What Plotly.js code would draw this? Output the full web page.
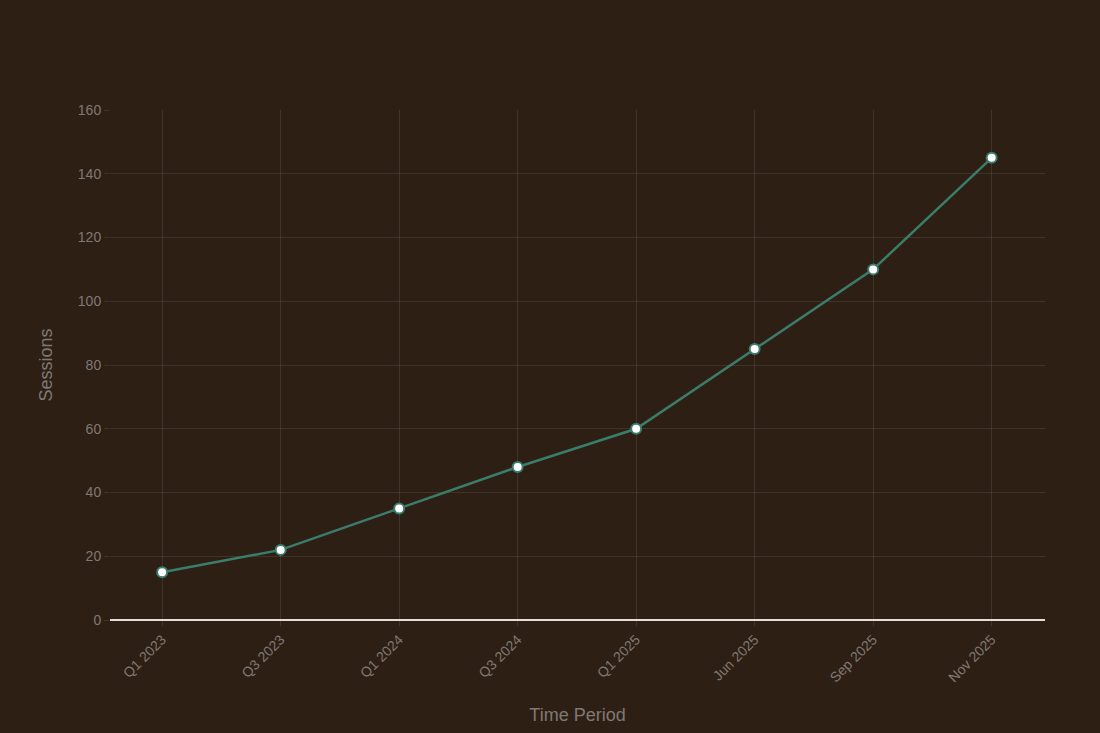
<!DOCTYPE html>
<html>
<head>
<meta charset="utf-8">
<script src="https://cdn.plot.ly/plotly-3.0.1.min.js"></script>
<style>html,body{margin:0;padding:0;background:#2e1f15;}#chart{width:1100px;height:733px;}</style>
</head>
<body>
<div id="chart"></div>
<script>
const periods = ["Q1 2023","Q3 2023","Q1 2024","Q3 2024","Q1 2025","Jun 2025","Sep 2025","Nov 2025"];
const sessions = [15, 22, 35, 48, 60, 85, 110, 145];
const yTicks = [0, 20, 40, 60, 80, 100, 120, 140, 160];

const trace = {
  x: periods,
  y: sessions,
  type: 'scatter',
  mode: 'lines+markers',
  line: {color: '#3a7d6b', width: 2.5},
  marker: {color: '#ffffff', size: 10, line: {color: '#3a7d6b', width: 2}},
  hoverinfo: 'x+y'
};

const layout = {
  width: 1100, height: 733,
  paper_bgcolor: '#2e1f15',
  plot_bgcolor: '#2e1f15',
  margin: {l: 110, r: 55, t: 110, b: 113},
  font: {family: '"Liberation Sans", Arial, sans-serif', color: '#7f7973', size: 14},
  showlegend: false,
  xaxis: {
    type: 'category',
    range: [-0.44, 7.45],
    tickangle: -45,
    showgrid: true,
    gridcolor: 'rgba(255,255,255,0.09)',
    ticks: 'outside', ticklen: 5, tickcolor: 'rgba(255,255,255,0.09)',
    zeroline: false,
    showline: false,
    tickfont: {size: 14, color: '#7f7973'},
    title: {text: 'Time Period', font: {size: 18, color: '#7f7973'}, standoff: 24}
  },
  yaxis: {
    range: [0, 160],
    tickvals: yTicks,
    showgrid: true,
    gridcolor: 'rgba(255,255,255,0.09)',
    ticks: 'outside', ticklen: 5, tickcolor: 'rgba(255,255,255,0.09)',
    zeroline: true, zerolinecolor: '#e6ded6', zerolinewidth: 2,
    showline: false,
    tickfont: {size: 14, color: '#7f7973'},
    title: {text: 'Sessions', font: {size: 18, color: '#7f7973'}, standoff: 20}
  }
};

Plotly.newPlot('chart', [trace], layout, {displayModeBar: false});
</script>
</body>
</html>
